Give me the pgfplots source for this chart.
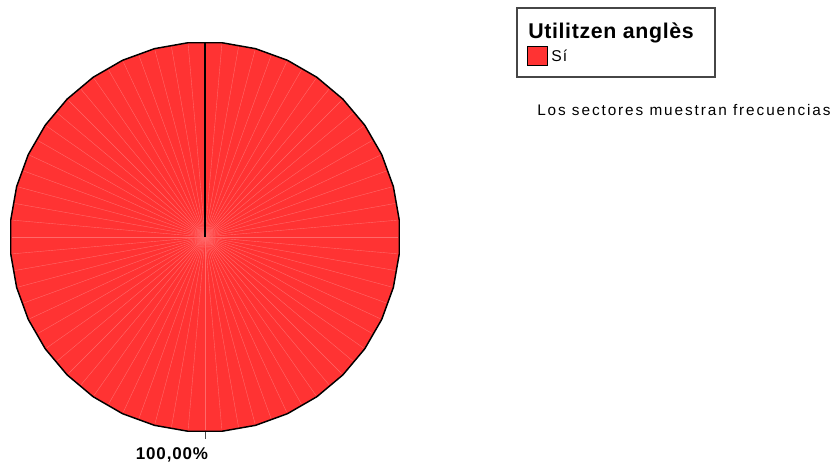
\documentclass[border=0pt]{standalone}
\usepackage{fontspec}
\setmainfont{Liberation Sans}
\usepackage{pgfplots}
\pgfplotsset{compat=1.18}
\usepgfplotslibrary{polar}
\definecolor{pieRed}{RGB}{255,51,51}
\definecolor{pieLine}{RGB}{255,105,105}
\begin{document}
\begin{tikzpicture}
\path[use as bounding box] (0,0) rectangle (624pt,347.25pt);
\begin{polaraxis}[at={(153.75pt,169.5pt)}, anchor=center, scale only axis,
  width=292.5pt, height=292.5pt, hide axis, xmin=0, xmax=360, ymin=0, ymax=1, clip=false]
% single sector: Sí = 100%
\addplot[fill=pieRed, draw=none] coordinates {(5,1)(15,1)(25,1)(35,1)(45,1)(55,1)(65,1)(75,1)(85,1)(95,1)(105,1)(115,1)(125,1)(135,1)(145,1)(155,1)(165,1)(175,1)(185,1)(195,1)(205,1)(215,1)(225,1)(235,1)(245,1)(255,1)(265,1)(275,1)(285,1)(295,1)(305,1)(315,1)(325,1)(335,1)(345,1)(355,1)} --cycle;
\pgfplotsinvokeforeach{0,5,...,355}{
  \addplot[pieLine, line width=0.3pt] coordinates {(#1,0)(#1,0.99)};
}
\addplot[black, line width=1.1pt, line join=round] coordinates {(5,1)(15,1)(25,1)(35,1)(45,1)(55,1)(65,1)(75,1)(85,1)(95,1)(105,1)(115,1)(125,1)(135,1)(145,1)(155,1)(165,1)(175,1)(185,1)(195,1)(205,1)(215,1)(225,1)(235,1)(245,1)(255,1)(265,1)(275,1)(285,1)(295,1)(305,1)(315,1)(325,1)(335,1)(345,1)(355,1)} --cycle;
\addplot[black, line width=1.4pt] coordinates {(90,0)(90,0.999)};
\addplot[gray!60!black, line width=0.75pt] coordinates {(270,1)(270,1.035)};
\end{polaraxis}
\begin{scope}[x=0.75pt,y=0.75pt]
\draw[gray!55!black, line width=1pt] (517,455) rectangle (715,386);
\node[anchor=base west, inner sep=0, font=\bfseries\fontsize{16}{18}\selectfont\addfontfeatures{LetterSpace=3}] at (528,424) {Utilitzen anglès};
\draw[fill=pieRed, draw=black, line width=0.75pt] (527,416) rectangle (547,397);
\node[anchor=base west, inner sep=0, font=\fontsize{11.75}{13}\selectfont\addfontfeatures{LetterSpace=8}] at (551,401) {Sí};
\node[anchor=base west, inner sep=0, font=\fontsize{11.5}{13}\selectfont\addfontfeatures{LetterSpace=12.5}] at (537,347) {Los sectores muestran frecuencias};
\node[anchor=base, inner sep=0, font=\bfseries\fontsize{12.75}{15}\selectfont\addfontfeatures{LetterSpace=5}] at (172,3) {100,00\%};
\end{scope}
\end{tikzpicture}
\end{document}
